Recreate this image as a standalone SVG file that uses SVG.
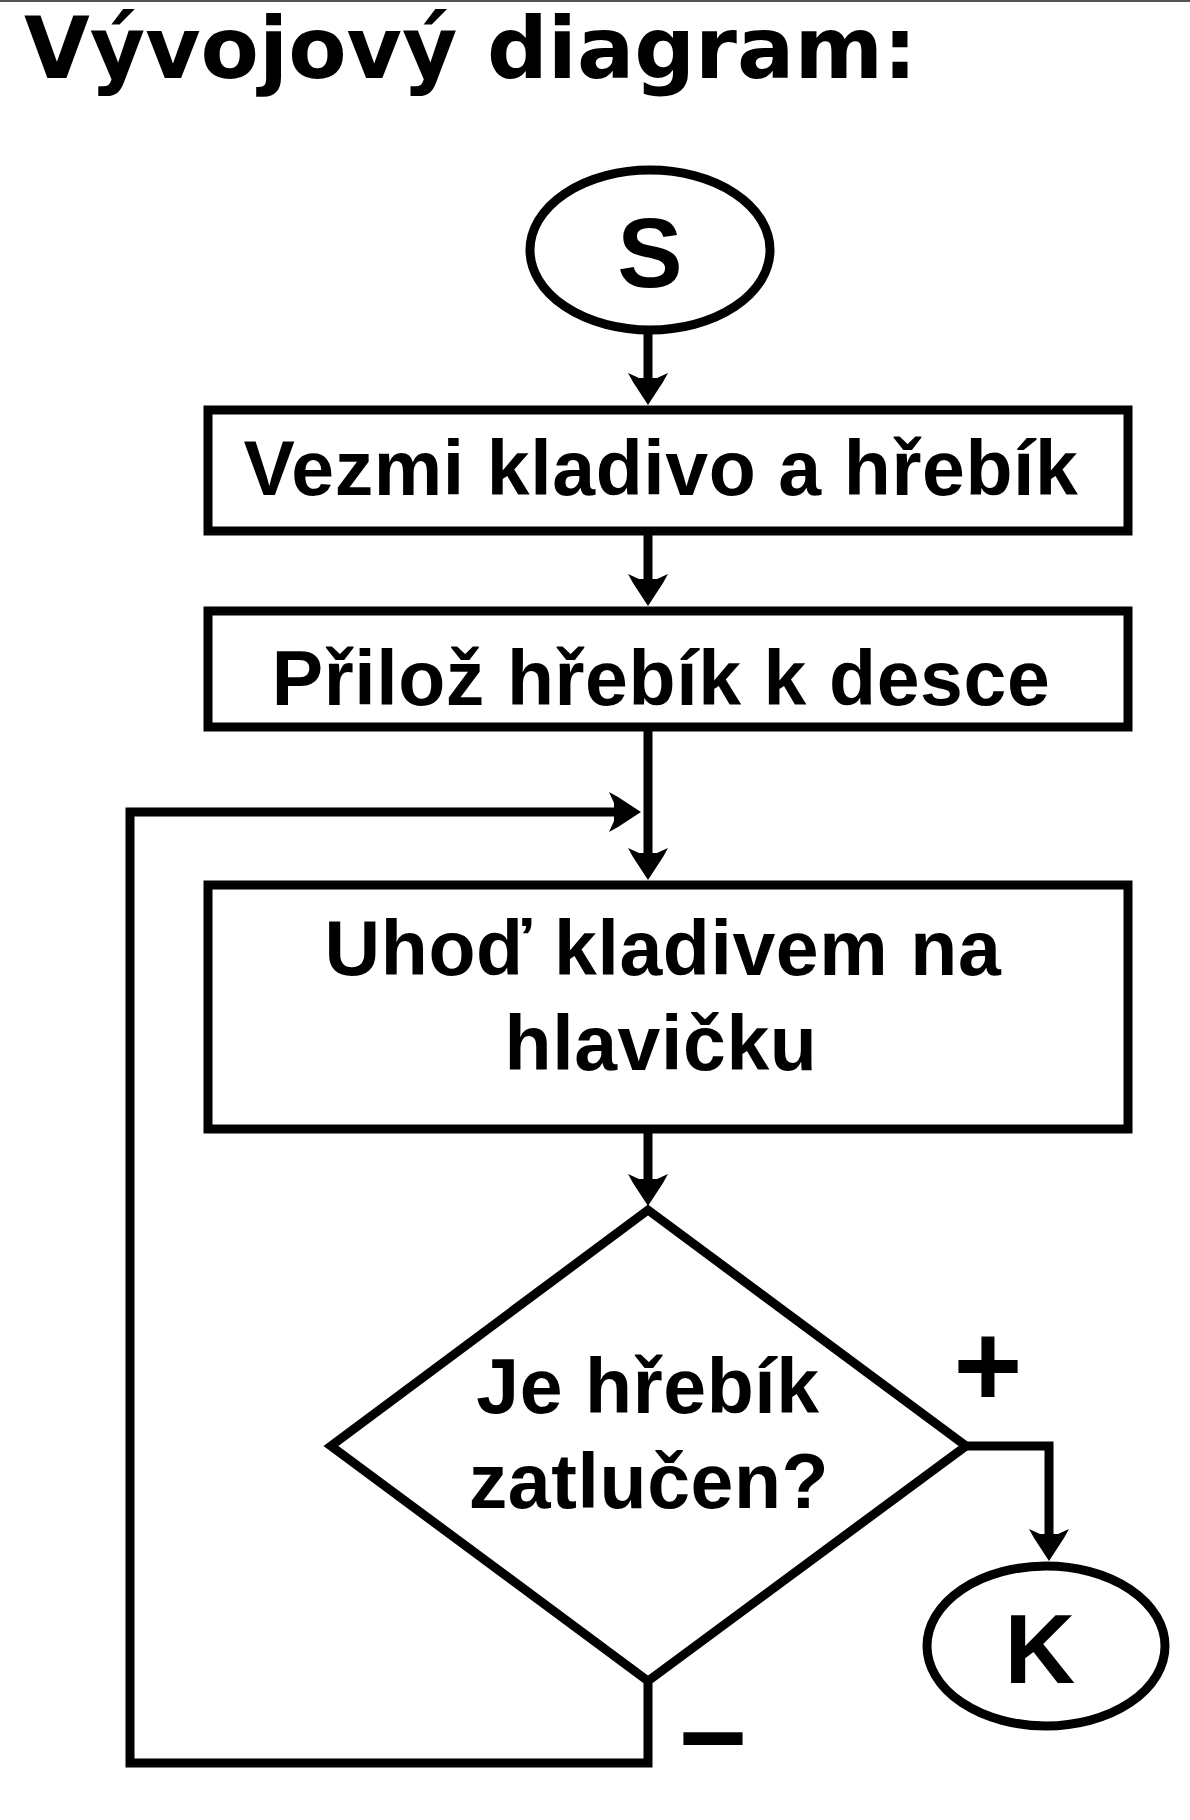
<svg xmlns="http://www.w3.org/2000/svg" width="1190" height="1820" viewBox="0 0 1190 1820">
<style>
.shape{fill:#fff;stroke:#000;stroke-width:9}
.conn{fill:none;stroke:#000;stroke-width:9}
.lbl{font-family:"Liberation Sans",Arial,sans-serif;font-weight:bold;font-size:77px;letter-spacing:0.6px;fill:#000;text-anchor:middle}
.term{font-family:"Liberation Sans",Arial,sans-serif;font-weight:bold;font-size:98px;fill:#000;text-anchor:middle}
.sign{font-family:"Liberation Sans",Arial,sans-serif;font-weight:bold;font-size:118px;fill:#000;text-anchor:middle}
.title{font-family:"DejaVu Sans",Verdana,sans-serif;font-weight:bold;font-size:85px;fill:#000}
</style>
<defs>
<marker id="arr" markerUnits="userSpaceOnUse" viewBox="-40 -25 45 50" markerWidth="45" markerHeight="50" refX="-10" refY="0" orient="auto" overflow="visible">
<path d="M0,0 L-23,-15 L-32,-20 L-27,-9 L-27,9 L-32,20 L-23,15 Z" fill="#000"/>
</marker>
</defs>
<rect x="0" y="0" width="1190" height="2" fill="#555"/>
<text class="title" x="24" y="78">Vývojový diagram:</text>
<g id="connectors">
<path class="conn" d="M648,334 V395" marker-end="url(#arr)"/>
<path class="conn" d="M648,535 V596" marker-end="url(#arr)"/>
<path class="conn" d="M648,731 V870" marker-end="url(#arr)"/>
<path class="conn" d="M648,1133 V1196" marker-end="url(#arr)"/>
<path class="conn" d="M648,1681 V1763 H130 V812 H631" marker-end="url(#arr)"/>
<path class="conn" d="M966,1446 H1049 V1551" marker-end="url(#arr)"/>
</g>
<g id="start">
<ellipse class="shape" cx="650" cy="250" rx="120" ry="80"/>
<text class="term" x="650" y="287">S</text>
</g>
<g id="step1">
<rect class="shape" x="208" y="410" width="920" height="121"/>
<text class="lbl" x="661" y="495">Vezmi kladivo a hřebík</text>
</g>
<g id="step2">
<rect class="shape" x="208" y="611" width="920" height="116"/>
<text class="lbl" x="661" y="705">Přilož hřebík k desce</text>
</g>
<g id="step3">
<rect class="shape" x="208" y="885" width="920" height="244"/>
<text class="lbl" x="663" y="975">Uhoď kladivem na</text>
<text class="lbl" x="661" y="1070">hlavičku</text>
</g>
<g id="decision">
<polygon class="shape" points="648,1210 966,1446 648,1681 331,1446"/>
<text class="lbl" x="648" y="1413">Je hřebík</text>
<text class="lbl" x="649" y="1508">zatlučen?</text>
<text class="sign" x="988" y="1406">+</text>
<text class="sign" x="713" y="1778">−</text>
</g>
<g id="end">
<ellipse class="shape" cx="1046" cy="1646" rx="119" ry="80"/>
<text class="term" x="1040" y="1683">K</text>
</g>
</svg>
